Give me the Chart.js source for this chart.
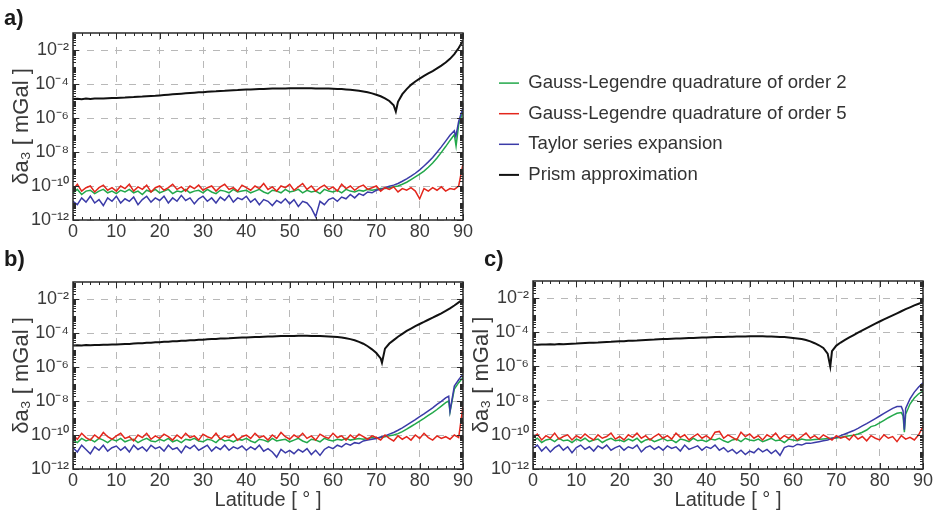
<!DOCTYPE html>
<html>
<head>
<meta charset="utf-8">
<script src="https://cdn.jsdelivr.net/npm/chart.js@4/dist/chart.umd.min.js"></script>
<style>
  body { margin: 0; background: #fff; width: 935px; height: 514px; position: relative; overflow: hidden; }
  .panel { position: absolute; }
</style>
</head>
<body>
<div class="panel" style="left:0;top:0;width:935px;height:255px"><canvas id="chartA"></canvas></div>
<div class="panel" style="left:0;top:240px;width:480px;height:274px"><canvas id="chartB"></canvas></div>
<div class="panel" style="left:460px;top:240px;width:475px;height:274px"><canvas id="chartC"></canvas></div>
<script>
// latitude grid (degrees); all series below are log10 of delta a3 [mGal]
const lat = [0,1,2,3,4,5,6,7,8,9,10,11,12,13,14,15,16,17,18,19,20,21,22,23,24,25,26,27,28,29,
  30,31,32,33,34,35,36,37,38,39,40,41,42,43,44,45,46,47,48,49,50,51,52,53,54,55,56,57,58,59,
  60,61,62,63,64,65,66,67,68,69,70,71,72,73,74,75,76,77,78,79,80,81,82,83,84,85,86,87,88,89,90];

const seriesLabels = [
  'Gauss-Legendre quadrature of order 2',
  'Gauss-Legendre quadrature of order 5',
  'Taylor series expansion',
  'Prism approximation'
];
const seriesColors = ['#22a84a', '#e3261c', '#3b3ba8', '#111111'];
const xTicks = [0, 10, 20, 30, 40, 50, 60, 70, 80, 90];
const yTickExps = [-12, -10, -8, -6, -4, -2];

// ---- panel a ----
const aGL2 = [-10.4,-10.2,-10.5,-10.3,-10.25,-10.45,-10.3,-10.2,-10.4,-10.3,
  -10.45,-10.25,-10.35,-10.2,-10.4,-10.3,-10.5,-10.25,-10.35,-10.2,
  -10.4,-10.3,-10.2,-10.45,-10.3,-10.35,-10.2,-10.4,-10.3,-10.25,
  -10.4,-10.2,-10.35,-10.45,-10.25,-10.3,-10.4,-10.2,-10.35,-10.3,
  -10.25,-10.4,-10.3,-10.2,-10.35,-10.45,-10.25,-10.3,-10.4,-10.2,
  -10.35,-10.3,-10.2,-10.4,-10.25,-10.35,-10.3,-10.45,-10.2,-10.3,
  -10.35,-10.25,-10.4,-10.2,-10.3,-10.35,-10.25,-10.3,-10.2,-10.25,
  -10.2,-10.15,-10.15,-10.1,-10.05,-10.0,-9.9,-9.78,-9.62,-9.46,
  -9.3,-9.12,-8.9,-8.65,-8.35,-8.02,-7.68,-7.32,-6.98,-6.4,
  -5.6];
const aGL5 = [-10.2,-9.9,-10.3,-10.1,-10.0,-10.35,-10.1,-9.95,-10.25,-10.1,
  -10.3,-10.0,-10.15,-9.9,-10.3,-10.05,-10.2,-9.95,-10.35,-10.1,
  -10.0,-10.25,-10.1,-9.9,-10.2,-10.05,-10.3,-10.0,-10.15,-9.95,
  -10.25,-10.1,-10.0,-10.3,-10.05,-9.9,-10.2,-10.1,-10.3,-9.95,
  -10.1,-10.25,-10.0,-10.15,-9.85,-10.2,-10.05,-10.3,-10.0,-10.1,
  -9.9,-10.25,-10.05,-9.85,-10.2,-10.0,-10.3,-10.1,-9.95,-10.2,
  -10.05,-10.3,-9.9,-10.15,-10.0,-10.25,-10.05,-9.95,-10.2,-10.1,
  -10.0,-10.3,-10.1,-10.2,-10.05,-10.35,-10.15,-10.25,-10.1,-10.3,
  -10.75,-10.15,-10.3,-10.1,-10.25,-10.05,-10.3,-10.15,-10.2,-10.0,
  -8.7];
const aTaylor = [-10.9,-11.1,-10.7,-10.95,-10.6,-11.0,-10.8,-11.15,-10.7,-10.9,
  -10.6,-11.0,-10.75,-10.9,-10.65,-11.1,-10.8,-10.6,-10.95,-10.7,
  -10.85,-10.6,-11.0,-10.7,-10.9,-10.55,-10.85,-10.7,-11.05,-10.75,
  -10.6,-10.9,-10.7,-11.0,-10.65,-10.85,-10.55,-10.95,-10.7,-10.8,
  -10.6,-10.95,-10.75,-11.1,-10.8,-10.9,-11.15,-10.85,-11.0,-10.75,
  -11.05,-10.8,-11.2,-10.9,-11.0,-11.3,-11.8,-10.9,-11.1,-10.8,
  -10.7,-10.9,-10.65,-10.75,-10.5,-10.7,-10.45,-10.55,-10.35,-10.4,
  -10.25,-10.2,-10.1,-10.02,-9.95,-9.85,-9.72,-9.58,-9.42,-9.25,
  -9.05,-8.82,-8.58,-8.32,-8.02,-7.7,-7.36,-7.02,-6.75,-6.2,
  -5.4];
const aPrism = [-4.88,-4.87,-4.89,-4.86,-4.88,-4.86,-4.85,-4.86,-4.84,-4.83,
  -4.82,-4.81,-4.80,-4.78,-4.77,-4.75,-4.74,-4.72,-4.70,-4.69,
  -4.67,-4.65,-4.63,-4.61,-4.59,-4.57,-4.55,-4.53,-4.51,-4.49,
  -4.48,-4.46,-4.44,-4.43,-4.41,-4.40,-4.38,-4.37,-4.36,-4.34,
  -4.33,-4.32,-4.31,-4.30,-4.29,-4.28,-4.27,-4.27,-4.26,-4.26,
  -4.25,-4.25,-4.25,-4.25,-4.25,-4.25,-4.26,-4.26,-4.27,-4.27,
  -4.28,-4.29,-4.30,-4.32,-4.34,-4.37,-4.40,-4.44,-4.49,-4.55,
  -4.63,-4.72,-4.84,-5.00,-5.25,-5.05,-4.60,-4.30,-4.05,-3.85,
  -3.68,-3.52,-3.38,-3.24,-3.08,-2.92,-2.74,-2.52,-2.24,-1.88,
  -1.45];
const aGL2Cusp = [[88.4, -7.65]];
const aTaylorCusp = [[88.35, -7.08]];
const aPrismCusp = [[74.5, -5.62]];

// ---- panel b ----
const bGL2 = [-10.3,-10.45,-10.2,-10.35,-10.25,-10.4,-10.2,-10.3,-10.45,-10.25,
  -10.35,-10.2,-10.4,-10.3,-10.25,-10.45,-10.3,-10.2,-10.35,-10.4,
  -10.25,-10.35,-10.2,-10.4,-10.3,-10.45,-10.25,-10.3,-10.2,-10.35,
  -10.4,-10.25,-10.3,-10.45,-10.2,-10.35,-10.3,-10.4,-10.25,-10.3,
  -10.2,-10.35,-10.45,-10.25,-10.3,-10.4,-10.2,-10.35,-10.3,-10.25,
  -10.4,-10.3,-10.2,-10.35,-10.45,-10.25,-10.3,-10.4,-10.2,-10.3,
  -10.35,-10.25,-10.3,-10.2,-10.3,-10.25,-10.2,-10.25,-10.2,-10.15,
  -10.2,-10.15,-10.1,-10.05,-10.0,-9.92,-9.8,-9.66,-9.5,-9.35,
  -9.18,-9.02,-8.85,-8.68,-8.5,-8.3,-8.1,-8.65,-7.3,-6.92,
  -6.62];
const bGL5 = [-10.0,-10.25,-9.9,-10.15,-10.3,-10.0,-10.2,-9.85,-10.1,-10.25,
  -10.05,-9.9,-10.2,-10.1,-10.35,-10.0,-10.15,-9.9,-10.25,-10.05,
  -10.2,-9.95,-10.1,-10.3,-10.0,-10.2,-9.9,-10.15,-10.05,-10.3,
  -9.95,-10.1,-10.2,-9.9,-10.25,-10.05,-10.15,-9.95,-10.3,-10.1,
  -10.0,-10.2,-9.9,-10.15,-10.05,-10.3,-10.0,-10.2,-9.85,-10.1,
  -10.25,-10.0,-10.15,-9.9,-10.2,-10.05,-10.3,-9.95,-10.1,-10.2,
  -9.9,-10.15,-10.05,-10.3,-10.0,-10.2,-9.95,-10.1,-10.25,-10.05,
  -10.15,-10.3,-10.0,-10.2,-10.35,-10.05,-10.25,-10.1,-10.3,-10.0,
  -10.2,-9.9,-10.15,-10.3,-10.05,-10.2,-10.1,-10.25,-10.0,-10.15,
  -8.3];
const bTaylor = [-10.75,-11.0,-10.6,-10.85,-11.1,-10.7,-10.9,-10.6,-10.95,-10.75,
  -10.65,-10.9,-10.7,-11.0,-10.6,-10.85,-10.7,-10.95,-10.6,-10.8,
  -10.7,-10.95,-10.6,-10.85,-10.75,-11.05,-10.65,-10.8,-10.6,-10.9,
  -10.75,-10.6,-10.95,-10.7,-10.85,-10.6,-10.9,-10.7,-10.8,-10.65,
  -10.9,-10.7,-10.85,-10.6,-10.95,-10.8,-11.0,-11.3,-10.85,-11.05,
  -10.9,-11.1,-10.85,-11.0,-10.8,-11.15,-10.9,-11.2,-10.85,-10.7,
  -10.8,-10.6,-10.7,-10.5,-10.6,-10.45,-10.5,-10.35,-10.3,-10.25,
  -10.2,-10.12,-10.05,-9.95,-9.85,-9.72,-9.58,-9.42,-9.26,-9.1,
  -8.92,-8.76,-8.58,-8.4,-8.2,-8.02,-7.82,-8.6,-7.12,-6.75,
  -6.42];
const bPrism = [-4.73,-4.72,-4.73,-4.71,-4.72,-4.70,-4.71,-4.69,-4.69,-4.68,
  -4.67,-4.66,-4.65,-4.64,-4.62,-4.61,-4.60,-4.58,-4.57,-4.55,
  -4.54,-4.52,-4.51,-4.49,-4.48,-4.46,-4.45,-4.43,-4.42,-4.40,
  -4.39,-4.37,-4.36,-4.35,-4.33,-4.32,-4.31,-4.29,-4.28,-4.27,
  -4.26,-4.25,-4.24,-4.23,-4.22,-4.21,-4.20,-4.19,-4.18,-4.18,
  -4.17,-4.17,-4.16,-4.16,-4.16,-4.17,-4.17,-4.18,-4.19,-4.20,
  -4.22,-4.24,-4.27,-4.31,-4.36,-4.43,-4.52,-4.63,-4.78,-4.96,
  -5.18,-5.5,-4.92,-4.62,-4.42,-4.22,-4.05,-3.88,-3.74,-3.6,
  -3.47,-3.35,-3.22,-3.1,-2.97,-2.84,-2.7,-2.55,-2.38,-2.2,
  -2.02];
const bGL2Cusp = [[86.7, -8.0]];
const bTaylorCusp = [[86.7, -7.72]];
const bPrismCusp = [[71.3, -5.75]];

// ---- panel c ----
const cGL2 = [-10.35,-10.2,-10.45,-10.3,-10.25,-10.4,-10.2,-10.35,-10.3,-10.45,
  -10.25,-10.35,-10.2,-10.4,-10.3,-10.25,-10.45,-10.3,-10.2,-10.35,
  -10.3,-10.4,-10.25,-10.35,-10.2,-10.45,-10.3,-10.25,-10.4,-10.3,
  -10.2,-10.35,-10.3,-10.45,-10.25,-10.3,-10.4,-10.2,-10.35,-10.3,
  -10.4,-10.25,-10.3,-10.2,-10.35,-10.45,-10.3,-10.25,-10.4,-10.2,
  -10.3,-10.35,-10.25,-10.4,-10.3,-10.2,-10.35,-10.3,-10.45,-10.25,
  -10.3,-10.35,-10.25,-10.3,-10.3,-10.28,-10.26,-10.24,-10.22,-10.2,
  -10.18,-10.14,-10.1,-10.06,-10.02,-9.95,-9.85,-9.72,-9.52,-9.45,
  -9.3,-9.15,-9.0,-8.86,-8.74,-8.7,-8.8,-8.2,-7.85,-7.6,
  -7.45];
const cGL5 = [-10.15,-9.95,-10.3,-10.05,-10.2,-9.9,-10.25,-10.1,-10.0,-10.3,
  -10.05,-10.2,-9.95,-10.15,-10.3,-10.0,-10.2,-10.1,-9.9,-10.25,
  -10.1,-10.3,-10.0,-10.15,-9.9,-10.2,-10.05,-10.3,-10.1,-9.95,
  -10.2,-10.05,-10.25,-9.9,-10.15,-10.0,-10.3,-10.1,-9.95,-10.2,
  -10.05,-10.25,-9.85,-9.8,-10.2,-10.0,-10.15,-10.3,-9.85,-10.1,
  -9.95,-10.2,-10.05,-10.3,-10.0,-10.15,-9.9,-10.25,-10.05,-10.2,
  -10.0,-10.3,-10.1,-9.9,-10.2,-10.05,-10.25,-10.0,-10.15,-10.3,
  -10.05,-10.2,-10.1,-10.3,-10.0,-10.25,-10.1,-10.35,-10.05,-10.2,
  -10.3,-10.0,-10.2,-10.1,-10.4,-10.05,-10.25,-10.15,-10.3,-10.0,
  -9.5];
const cTaylor = [-10.8,-10.6,-10.95,-10.7,-11.0,-10.75,-10.6,-10.9,-10.7,-11.05,
  -10.75,-10.6,-10.85,-10.7,-10.95,-10.65,-10.8,-10.6,-10.9,-10.75,
  -10.65,-10.9,-10.7,-10.8,-10.6,-11.0,-10.75,-10.65,-10.85,-10.7,
  -10.9,-10.65,-10.8,-10.7,-10.95,-10.6,-10.85,-10.75,-10.65,-10.9,
  -10.7,-10.8,-10.6,-10.9,-10.75,-11.0,-10.85,-11.1,-10.9,-11.15,
  -10.95,-11.05,-10.8,-11.0,-10.85,-11.1,-10.9,-11.2,-10.75,-10.65,
  -10.7,-10.55,-10.6,-10.5,-10.5,-10.45,-10.4,-10.35,-10.3,-10.2,
  -10.15,-10.05,-9.95,-9.85,-9.75,-9.62,-9.48,-9.35,-9.2,-9.05,
  -8.9,-8.75,-8.6,-8.45,-8.35,-8.35,-8.45,-7.9,-7.5,-7.2,
  -6.95];
const cPrism = [-4.72,-4.73,-4.71,-4.72,-4.70,-4.71,-4.69,-4.70,-4.68,-4.67,
  -4.66,-4.64,-4.63,-4.62,-4.61,-4.60,-4.58,-4.57,-4.56,-4.54,
  -4.53,-4.52,-4.50,-4.49,-4.48,-4.46,-4.45,-4.44,-4.43,-4.41,
  -4.40,-4.39,-4.38,-4.37,-4.36,-4.35,-4.34,-4.33,-4.32,-4.31,
  -4.30,-4.29,-4.28,-4.28,-4.27,-4.26,-4.26,-4.25,-4.25,-4.25,
  -4.24,-4.24,-4.24,-4.24,-4.25,-4.25,-4.26,-4.27,-4.28,-4.30,
  -4.33,-4.36,-4.40,-4.45,-4.53,-4.64,-4.76,-4.92,-5.25,-5.1,
  -4.78,-4.6,-4.45,-4.3,-4.16,-4.02,-3.89,-3.76,-3.63,-3.5,
  -3.37,-3.25,-3.13,-3.01,-2.89,-2.77,-2.65,-2.54,-2.43,-2.33,
  -2.24];
const cGL2Cusp = [[85.4, -8.9], [85.7, -9.85]];
const cTaylorCusp = [[85.4, -8.6], [85.7, -9.7]];
const cPrismCusp = [[68.6, -6.0]];

Chart.defaults.font.family = "'Liberation Sans', Arial, sans-serif";
const textColor = '#3a3a3a';
const gridColor = '#b8b8b8';
const drawOrder = [3, 1, 2, 0]; // green at the bottom, black on top

const supMap = { '-': '\u207B', '0': '\u2070', '1': '\u00B9', '2': '\u00B2', '3': '\u00B3', '4': '\u2074',
  '5': '\u2075', '6': '\u2076', '7': '\u2077', '8': '\u2078', '9': '\u2079' };
function sup(n) {
  return String(n).split('').map(c => supMap[c]).join('');
}

function toPoints(values, extra) {
  const pts = values.map((v, i) => ({ x: lat[i], y: Math.pow(10, v) }));
  extra.forEach(([x, v]) => pts.push({ x: x, y: Math.pow(10, v) }));
  return pts.sort((p, q) => p.x - q.x);
}

function buildDatasets(series, cusps) {
  return series.map((vals, i) => ({
    label: seriesLabels[i],
    data: toPoints(vals, cusps[i]),
    borderColor: seriesColors[i],
    backgroundColor: seriesColors[i],
    borderWidth: i === 3 ? 2 : 1.5,
    pointRadius: 0,
    tension: 0,
    order: drawOrder[i]
  }));
}

// box frame with inward minor ticks on all four sides
const framePlugin = {
  id: 'frame',
  afterDatasetsDraw(chart) {
    const { ctx, chartArea: area } = chart;
    const xs = chart.scales.x, ys = chart.scales.y;
    ctx.save();
    ctx.strokeStyle = '#2a2a2a';
    ctx.lineWidth = 1;
    ctx.beginPath();
    for (let v = 0; v <= 90; v += 2) {
      const px = Math.round(xs.getPixelForValue(v)) + 0.5;
      const len = v % 10 === 0 ? 6 : 3;
      ctx.moveTo(px, area.bottom); ctx.lineTo(px, area.bottom - len);
      ctx.moveTo(px, area.top); ctx.lineTo(px, area.top + len);
    }
    for (let e = -12; e < -1; e++) {
      for (let m = 1; m < 10; m++) {
        const py = Math.round(ys.getPixelForValue(m * Math.pow(10, e))) + 0.5;
        const len = (m === 1 && e % 2 === 0) ? 6 : 3;
        ctx.moveTo(area.left, py); ctx.lineTo(area.left + len, py);
        ctx.moveTo(area.right, py); ctx.lineTo(area.right - len, py);
      }
    }
    ctx.stroke();
    ctx.lineWidth = 1.5;
    ctx.strokeRect(area.left, area.top, area.right - area.left, area.bottom - area.top);
    ctx.restore();
  }
};

const panelLabelPlugin = {
  id: 'panelLabel',
  afterDraw(chart, args, opts) {
    const ctx = chart.ctx;
    ctx.save();
    ctx.font = "bold 22px 'Liberation Sans', Arial, sans-serif";
    ctx.fillStyle = '#1a1a1a';
    ctx.textBaseline = 'alphabetic';
    ctx.fillText(opts.text, opts.x, opts.y);
    ctx.restore();
  }
};

// legend of panel a sits to the right of the plot, in the empty space above panel c
const legendPlacePlugin = {
  id: 'legendPlace',
  afterInit(chart) {
    const fit = chart.legend.fit;
    chart.legend.fit = function () {
      fit.call(this);
      this.width = 472;
    };
  },
  afterLayout(chart) {
    chart.legend.left += 24;
    chart.legend.right += 24;
    chart.legend.top -= 15;
    chart.legend.bottom -= 15;
  }
};

function makeScales(xHeight, showXTitle) {
  return {
    x: {
      type: 'linear', min: 0, max: 90,
      afterBuildTicks: s => { s.ticks = xTicks.map(v => ({ value: v })); },
      afterFit: s => { s.height = xHeight; },
      grid: { color: gridColor, lineWidth: 1, drawTicks: false },
      border: { display: false, dash: [7, 7] },
      ticks: { padding: 1, color: textColor, font: { size: 18 }, maxRotation: 0, autoSkip: false },
      title: { display: showXTitle, text: 'Latitude [ \u00B0 ]', color: textColor, font: { size: 20 }, padding: { top: 0, bottom: 2 } }
    },
    y: {
      type: 'logarithmic', min: 1e-12, max: 1e-1,
      afterBuildTicks: s => { s.ticks = yTickExps.map(e => ({ value: Math.pow(10, e) })); },
      afterFit: s => { s.width = 73; },
      grid: { color: gridColor, lineWidth: 1, drawTicks: false },
      border: { display: false, dash: [7, 7] },
      ticks: {
        padding: 4, color: textColor, font: { size: 18 }, autoSkip: false,
        callback: v => '10' + sup(Math.round(Math.log10(v)))
      },
      title: { display: true, text: '\u03B4a\u2083 [ mGal ]', color: textColor, font: { size: 22 }, padding: { top: 9, bottom: 0 } }
    }
  };
}

function makeChart(id, cfg) {
  return new Chart(document.getElementById(id), {
    type: 'line',
    data: { datasets: buildDatasets(cfg.series, cfg.cusps) },
    options: {
      responsive: true,
      maintainAspectRatio: false,
      animation: false,
      devicePixelRatio: 1,
      layout: { padding: cfg.padding },
      scales: makeScales(cfg.xHeight, cfg.xTitle),
      plugins: {
        legend: {
          display: cfg.legend,
          position: 'right',
          align: 'center',
          labels: {
            usePointStyle: true, pointStyle: 'line', pointStyleWidth: 20,
            font: { size: 18.6 }, color: '#333', padding: 12,
            sort: (a, b) => a.datasetIndex - b.datasetIndex
          }
        },
        tooltip: { enabled: false },
        panelLabel: cfg.label
      }
    },
    plugins: cfg.legend ? [framePlugin, panelLabelPlugin, legendPlacePlugin] : [framePlugin, panelLabelPlugin]
  });
}

makeChart('chartA', {
  series: [aGL2, aGL5, aTaylor, aPrism],
  cusps: [aGL2Cusp, [], aTaylorCusp, aPrismCusp],
  padding: { top: 33, right: 0, bottom: 0, left: 0 },
  xHeight: 35, xTitle: false, legend: true,
  label: { text: 'a)', x: 4, y: 25 }
});
makeChart('chartB', {
  series: [bGL2, bGL5, bTaylor, bPrism],
  cusps: [bGL2Cusp, [], bTaylorCusp, bPrismCusp],
  padding: { top: 42, right: 17, bottom: 0, left: 0 },
  xHeight: 45, xTitle: true, legend: false,
  label: { text: 'b)', x: 4, y: 26 }
});
makeChart('chartC', {
  series: [cGL2, cGL5, cTaylor, cPrism],
  cusps: [cGL2Cusp, [], cTaylorCusp, cPrismCusp],
  padding: { top: 41, right: 12, bottom: 0, left: 0 },
  xHeight: 45, xTitle: true, legend: false,
  label: { text: 'c)', x: 24, y: 26 }
});
</script>
</body>
</html>
